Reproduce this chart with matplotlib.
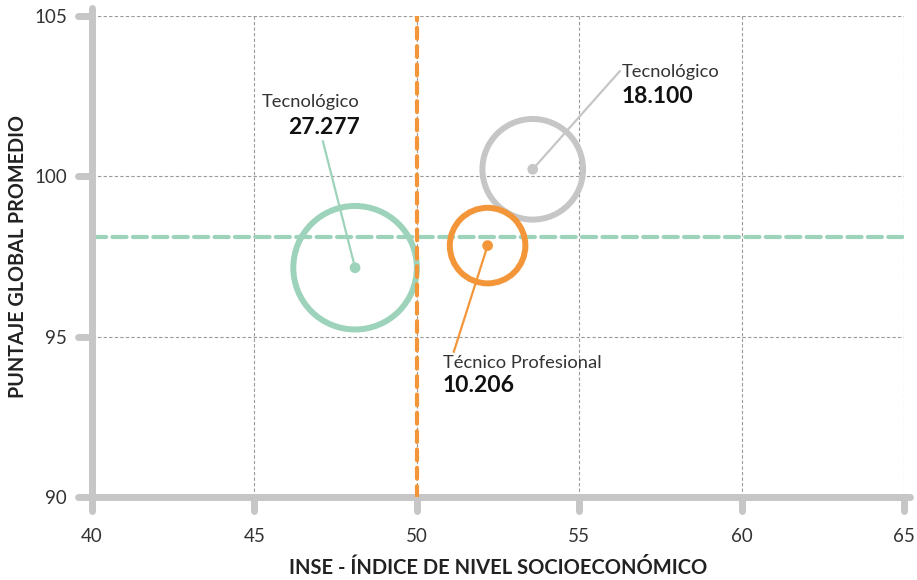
import matplotlib
matplotlib.use("Agg")
import matplotlib.pyplot as plt
from matplotlib.markers import MarkerStyle
import numpy as np

# datos
grupos = ["Tecnológico", "Tecnológico", "Técnico Profesional"]
etiquetas_n = ["27.277", "18.100", "10.206"]
estudiantes = [27277, 18100, 10206]
inse = [48.1, 53.57, 52.18]
puntaje = [97.15, 100.22, 97.84]
inse_ref = 50.0
puntaje_ref = 98.1
xticks = [40, 45, 50, 55, 60, 65]
yticks = [90, 95, 100, 105]

verde = "#9dd3ba"
gris = "#c6c6c6"
naranja = "#f3963a"
colores = [verde, gris, naranja]

# posicion de las etiquetas y fin de las lineas guia
fin_guia = [(47.11, 101.09), (56.25, 103.28), (51.14, 94.53)]
pos_texto = [(48.25, 102.31, 101.53, "right"),
             (56.31, 103.25, 102.50, "left"),
             (50.80, 94.19, 93.47, "left")]

plt.rcParams["font.family"] = ["Lato", "DejaVu Sans"]

fig = plt.figure(figsize=(9.17, 5.8), dpi=100)
ax = fig.add_axes([0.1003, 0.1431, 0.8855, 0.8293])
ax.set_xlim(40, 65)
ax.set_ylim(90, 105)

ax.set_xticks(xticks)
ax.set_yticks(yticks)
ax.grid(True, color="#9a9a9a", linestyle=(0, (3, 2)), linewidth=0.8, zorder=0)
ax.set_axisbelow(True)

for lado in ["top", "right"]:
    ax.spines[lado].set_visible(False)
for lado in ["left", "bottom"]:
    ax.spines[lado].set_color(gris)
    ax.spines[lado].set_linewidth(5)
    ax.spines[lado].set_capstyle("round")
ax.spines["left"].set_bounds(90, 105.25)
ax.spines["bottom"].set_bounds(40, 65.2)

ax.tick_params(axis="both", color=gris, width=5, length=10, labelcolor="#333333",
               labelsize=13.5)
ax.tick_params(axis="x", pad=12)
ax.tick_params(axis="y", pad=8)
for t in ax.xaxis.get_major_ticks():
    t.tick1line.set_marker(MarkerStyle(3, capstyle="round"))
for t in ax.yaxis.get_major_ticks():
    t.tick1line.set_marker(MarkerStyle(0, capstyle="round"))

# lineas de referencia
ax.axhline(puntaje_ref, color=verde, linewidth=3, linestyle=(0, (3.4, 1.5)),
           dash_capstyle="round", zorder=2)

# burbujas
tam = np.array(estudiantes) * 0.29
ax.scatter(inse, puntaje, s=tam, facecolors="none", edgecolors=colores,
           linewidths=4.3, zorder=3)
ax.scatter(inse, puntaje, s=45, c=colores, zorder=4)

ax.axvline(inse_ref, color=naranja, linewidth=3, linestyle=(0, (2.6, 1.8)),
           dash_capstyle="round", zorder=5)

for i in range(len(grupos)):
    ax.plot([inse[i], fin_guia[i][0]], [puntaje[i], fin_guia[i][1]],
            color=colores[i], linewidth=1.6, zorder=4)
    x, y1, y2, ha = pos_texto[i]
    ax.text(x, y1, grupos[i], ha=ha, va="center", fontsize=13.2,
            color="#333333", zorder=6)
    ax.text(x, y2, etiquetas_n[i], ha=ha, va="center", fontsize=16.5,
            fontweight="bold", color="#111111", zorder=6)

ax.set_xlabel("INSE - ÍNDICE DE NIVEL SOCIOECONÓMICO", fontsize=14.5,
              fontweight="bold", color="#222222", labelpad=10)
ax.set_ylabel("PUNTAJE GLOBAL PROMEDIO", fontsize=14.2, fontweight="bold",
              color="#222222", va="center")
ax.yaxis.set_label_coords(-0.091, 0.5)

fig.savefig("out.png", dpi=100)
